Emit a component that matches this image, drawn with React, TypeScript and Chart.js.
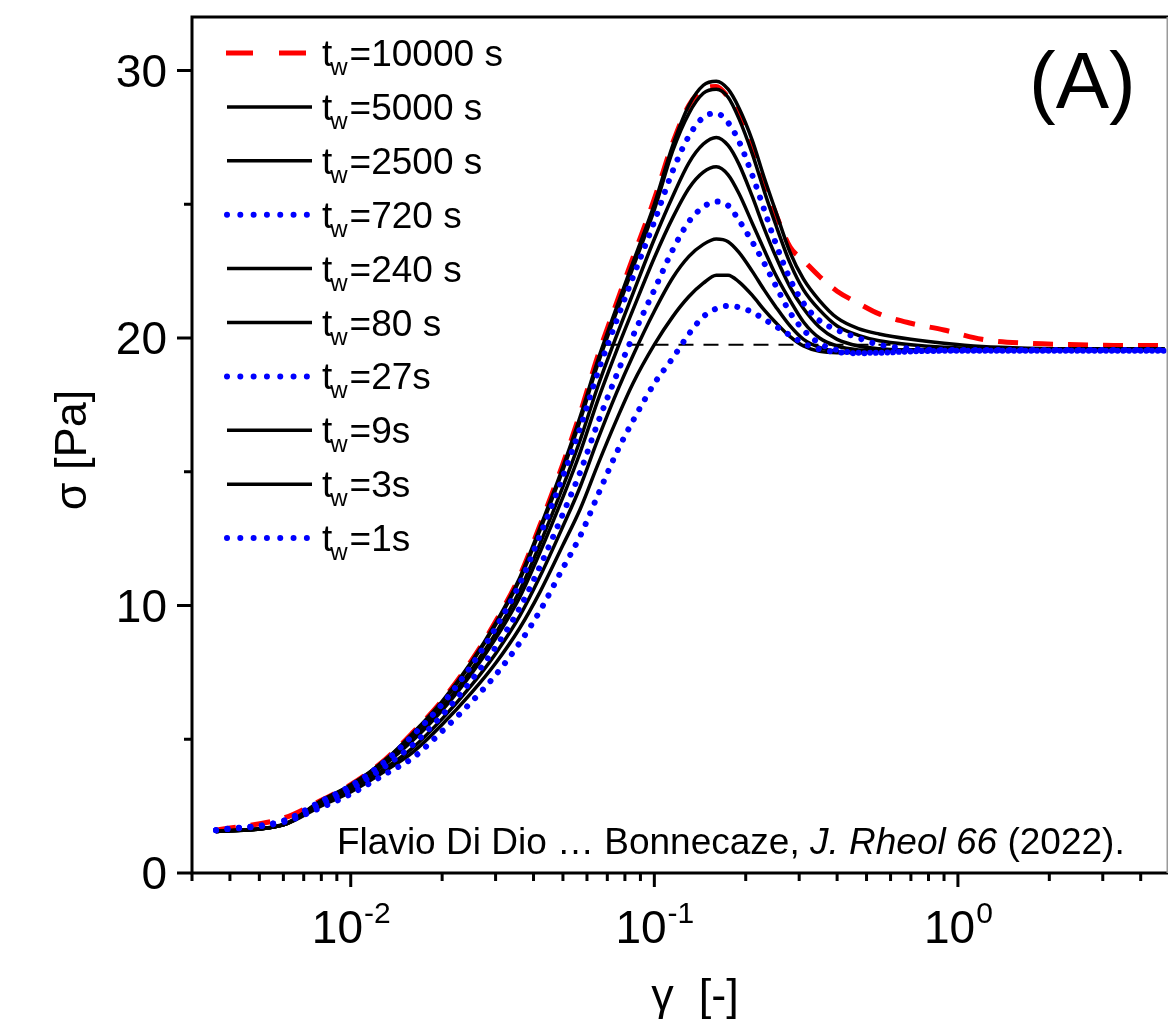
import React, { useEffect, useRef } from 'react';
import { Chart, registerables } from 'chart.js';

Chart.register(...registerables);

// strain values (gamma) shared by all curves
const strain = [0.0036, 0.006, 0.008, 0.01, 0.013, 0.016, 0.02, 0.025, 0.03, 0.036, 0.042, 0.05, 0.057, 0.065, 0.075, 0.085, 0.1, 0.115, 0.13, 0.145, 0.16, 0.175, 0.19, 0.21, 0.23, 0.25, 0.28, 0.31, 0.35, 0.4, 0.47, 0.55, 0.7, 0.9, 1.2, 1.7, 2.5, 3.5, 4.8];

// stress sigma [Pa] for each waiting time
const tw10000 = [1.6, 2.05, 2.72, 3.3, 4.25, 5.25, 6.45, 7.95, 9.4, 11.1, 13.0, 15.3, 17.2, 19.3, 21.3, 23.0, 25.2, 27.3, 28.7, 29.3, 29.4, 29.0, 28.4, 27.2, 25.8, 24.7, 23.4, 22.9, 22.3, 21.75, 21.3, 20.9, 20.55, 20.3, 19.95, 19.8, 19.75, 19.72, 19.72];
const tw5000 = [1.55, 1.82, 2.71, 3.29, 4.23, 5.22, 6.42, 7.9, 9.34, 11.03, 12.9, 15.18, 17.06, 19.14, 21.13, 22.82, 25.0, 27.2, 28.7, 29.45, 29.6, 29.3, 28.6, 27.4, 26.0, 24.8, 23.2, 22.2, 21.4, 20.75, 20.35, 20.15, 19.95, 19.8, 19.68, 19.62, 19.6, 19.6, 19.6];
const tw2500 = [1.55, 1.8, 2.7, 3.28, 4.22, 5.19, 6.38, 7.86, 9.28, 10.95, 12.81, 15.07, 16.92, 18.99, 20.96, 22.63, 24.8, 27.0, 28.4, 29.15, 29.3, 29.0, 28.2, 26.9, 25.5, 24.3, 22.8, 21.8, 21.05, 20.45, 20.1, 19.9, 19.75, 19.65, 19.6, 19.58, 19.58, 19.58, 19.58];
const tw720 = [1.6, 1.95, 2.69, 3.26, 4.18, 5.14, 6.31, 7.76, 9.16, 10.8, 12.62, 14.83, 16.65, 18.68, 20.63, 22.27, 24.35, 26.25, 27.55, 28.25, 28.4, 28.05, 27.35, 26.1, 24.8, 23.6, 22.2, 21.3, 20.65, 20.3, 20.0, 19.75, 19.6, 19.55, 19.55, 19.55, 19.55, 19.55, 19.55];
const tw240 = [1.55, 1.8, 2.66, 3.22, 4.13, 5.04, 6.2, 7.61, 8.96, 10.55, 12.3, 14.44, 16.19, 18.16, 20.07, 21.66, 23.7, 25.3, 26.55, 27.25, 27.5, 27.2, 26.5, 25.3, 24.1, 23.1, 21.9, 21.1, 20.4, 19.95, 19.7, 19.6, 19.55, 19.55, 19.57, 19.57, 19.57, 19.57, 19.57];
const tw80 = [1.55, 1.8, 2.63, 3.19, 4.07, 4.95, 6.08, 7.45, 8.76, 10.3, 11.98, 14.05, 15.73, 17.64, 19.51, 21.05, 23.0, 24.5, 25.6, 26.2, 26.4, 26.1, 25.4, 24.3, 23.3, 22.4, 21.4, 20.6, 20.0, 19.7, 19.55, 19.52, 19.52, 19.55, 19.55, 19.55, 19.55, 19.55, 19.55];
const tw27 = [1.6, 1.95, 2.59, 3.13, 3.99, 4.79, 5.9, 7.21, 8.44, 9.9, 11.46, 13.43, 14.99, 16.8, 18.6, 20.07, 21.8, 23.3, 24.35, 24.9, 25.1, 24.95, 24.4, 23.6, 22.8, 22.0, 20.95, 20.3, 19.8, 19.55, 19.45, 19.45, 19.5, 19.52, 19.52, 19.52, 19.52, 19.52, 19.52];
const tw9 = [1.55, 1.8, 2.56, 3.09, 3.92, 4.68, 5.76, 7.02, 8.2, 9.6, 11.08, 12.96, 14.44, 16.18, 17.94, 19.34, 21.0, 22.25, 23.05, 23.5, 23.7, 23.6, 23.2, 22.5, 21.8, 21.2, 20.45, 19.95, 19.65, 19.5, 19.45, 19.5, 19.55, 19.55, 19.55, 19.55, 19.55, 19.55, 19.55];
const tw3 = [1.55, 1.8, 2.51, 3.03, 3.82, 4.51, 5.55, 6.74, 7.84, 9.15, 10.5, 12.26, 13.61, 15.24, 16.93, 18.3, 19.75, 20.8, 21.55, 22.05, 22.35, 22.35, 22.1, 21.6, 21.05, 20.6, 20.05, 19.7, 19.5, 19.45, 19.47, 19.5, 19.55, 19.55, 19.55, 19.55, 19.55, 19.55, 19.55];
const tw1 = [1.6, 1.9, 2.45, 2.95, 3.7, 4.3, 5.3, 6.4, 7.4, 8.6, 9.8, 11.4, 12.6, 14.1, 15.7, 16.9, 18.3, 19.25, 20.15, 20.8, 21.1, 21.2, 21.15, 20.97, 20.7, 20.45, 20.1, 19.8, 19.58, 19.47, 19.43, 19.45, 19.5, 19.52, 19.52, 19.52, 19.52, 19.52, 19.52];

const legendLabels = ['10000 s', '5000 s', '2500 s', '720 s', '240 s', '80 s', '27s', '9s', '3s', '1s'];
const lineKinds = ['dash', 'solid', 'solid', 'dot', 'solid', 'solid', 'dot', 'solid', 'solid', 'dot'];
const seriesValues = [tw10000, tw5000, tw2500, tw720, tw240, tw80, tw27, tw9, tw3, tw1];

// steady-state reference (horizontal dashed line)
const refLineX = [0.068, 0.6];
const refLineY = [19.75, 19.75];

// axis ticks
const yMajorTicks = [0, 10, 20, 30];
const yMinorTicks = [5, 15, 25];
const xMajorExponents = [-2, -1, 0];
const xMinorTicks = [0.003, 0.004, 0.005, 0.006, 0.007, 0.008, 0.009, 0.02, 0.03, 0.04, 0.05, 0.06, 0.07, 0.08, 0.09, 0.2, 0.3, 0.4, 0.5, 0.6, 0.7, 0.8, 0.9, 2, 3, 4];

const FONT = '"Liberation Sans", Arial, sans-serif';

function styleFor(kind: string) {
  if (kind === 'dash') {
    return { borderColor: '#ff0000', borderWidth: 5, borderDash: [20, 15], borderCapStyle: 'butt', order: 2 };
  }
  if (kind === 'dot') {
    return { borderColor: '#0000ff', borderWidth: 6, borderDash: [0.01, 11.5], borderCapStyle: 'round', order: 0 };
  }
  return { borderColor: '#000000', borderWidth: 3.5, borderDash: [], borderCapStyle: 'butt', order: 1 };
}

const overlayPlugin = {
  id: 'overlay',
  afterDraw(chart: any) {
    const { ctx, chartArea: ca, scales } = chart;
    const xs = scales.x;
    const ys = scales.y;
    ctx.save();

    // frame
    ctx.strokeStyle = '#000';
    ctx.lineWidth = 3;
    ctx.lineJoin = 'miter';
    ctx.setLineDash([]);
    ctx.beginPath();
    ctx.moveTo(ca.right, ca.top);
    ctx.lineTo(ca.left, ca.top);
    ctx.lineTo(ca.left, ca.bottom);
    ctx.lineTo(ca.right, ca.bottom);
    ctx.stroke();
    ctx.strokeStyle = '#9a9a9a';
    ctx.lineWidth = 1.5;
    ctx.beginPath();
    ctx.moveTo(ca.right - 0.75, ca.top);
    ctx.lineTo(ca.right - 0.75, ca.bottom);
    ctx.stroke();

    // ticks
    ctx.strokeStyle = '#000';
    ctx.lineWidth = 3;
    ctx.beginPath();
    yMajorTicks.forEach((v) => {
      const y = ys.getPixelForValue(v);
      ctx.moveTo(ca.left - 15, y);
      ctx.lineTo(ca.left, y);
    });
    yMinorTicks.forEach((v) => {
      const y = ys.getPixelForValue(v);
      ctx.moveTo(ca.left - 8, y);
      ctx.lineTo(ca.left, y);
    });
    xMajorExponents.forEach((e) => {
      const x = xs.getPixelForValue(Math.pow(10, e));
      ctx.moveTo(x, ca.bottom);
      ctx.lineTo(x, ca.bottom + 14);
    });
    xMinorTicks.forEach((v) => {
      const x = xs.getPixelForValue(v);
      ctx.moveTo(x, ca.bottom);
      ctx.lineTo(x, ca.bottom + 8);
    });
    ctx.stroke();

    // y tick labels
    ctx.fillStyle = '#000';
    ctx.font = `46px ${FONT}`;
    ctx.textAlign = 'right';
    ctx.textBaseline = 'alphabetic';
    yMajorTicks.forEach((v) => {
      const y = ys.getPixelForValue(v);
      ctx.fillText(String(v), ca.left - 25, y + 16);
    });

    // x tick labels 10^n
    ctx.textAlign = 'left';
    xMajorExponents.forEach((e) => {
      const x = xs.getPixelForValue(Math.pow(10, e));
      ctx.font = `46px ${FONT}`;
      const wBase = ctx.measureText('10').width;
      ctx.font = `30px ${FONT}`;
      const sup = String(e);
      const wSup = ctx.measureText(sup).width;
      const x0 = x - (wBase + wSup) / 2;
      ctx.font = `46px ${FONT}`;
      ctx.fillText('10', x0, 943);
      ctx.font = `30px ${FONT}`;
      ctx.fillText(sup, x0 + wBase + 1, 923);
    });

    // axis titles
    ctx.font = `45px ${FONT}`;
    ctx.textAlign = 'center';
    ctx.fillText('\u03b3  [-]', 695, 1010);
    ctx.save();
    ctx.translate(86, 450);
    ctx.rotate(-Math.PI / 2);
    ctx.fillText('\u03c3 [Pa]', 0, 0);
    ctx.restore();

    // panel label
    ctx.font = `80px ${FONT}`;
    ctx.textAlign = 'left';
    ctx.fillText('(A)', 1029, 108);

    // credit line
    const parts = [
      { t: 'Flavio Di Dio \u2026 Bonnecaze, ', it: false },
      { t: 'J. Rheol 66', it: true },
      { t: ' (2022).', it: false },
    ];
    let cx = 337;
    parts.forEach((p) => {
      ctx.font = `${p.it ? 'italic ' : ''}37px ${FONT}`;
      ctx.fillText(p.t, cx, 854);
      cx += ctx.measureText(p.t).width;
    });

    // legend
    const rowY0 = 53;
    const rowStep = 53.9;
    legendLabels.forEach((lab, i) => {
      const yc = rowY0 + rowStep * i;
      const kind = lineKinds[i];
      const st = styleFor(kind);
      ctx.save();
      ctx.strokeStyle = st.borderColor;
      ctx.beginPath();
      if (kind === 'dash') {
        ctx.lineWidth = 5;
        ctx.setLineDash([27, 26]);
        ctx.lineCap = 'butt';
        ctx.moveTo(226, yc);
        ctx.lineTo(307, yc);
      } else if (kind === 'dot') {
        ctx.lineWidth = 6;
        ctx.setLineDash([0.01, 13.3]);
        ctx.lineCap = 'round';
        ctx.moveTo(227, yc);
        ctx.lineTo(308, yc);
      } else {
        ctx.lineWidth = 3.5;
        ctx.setLineDash([]);
        ctx.lineCap = 'butt';
        ctx.moveTo(227, yc);
        ctx.lineTo(312, yc);
      }
      ctx.stroke();
      ctx.restore();

      ctx.fillStyle = '#000';
      ctx.textAlign = 'left';
      ctx.font = `37px ${FONT}`;
      ctx.fillText('t', 322, yc + 13);
      const tW = ctx.measureText('t').width;
      ctx.font = `24px ${FONT}`;
      ctx.fillText('w', 322 + tW - 2, yc + 22);
      const wW = ctx.measureText('w').width;
      ctx.font = `37px ${FONT}`;
      ctx.fillText('=' + lab, 322 + tW - 2 + wW + 2, yc + 13);
    });

    ctx.restore();
  },
};

export default function App() {
  const canvasRef = useRef<HTMLCanvasElement | null>(null);

  useEffect(() => {
    document.body.style.margin = '0';
    const canvas = canvasRef.current;
    if (!canvas) return;

    const datasets: any[] = seriesValues.map((vals, i) => ({
      label: legendLabels[i],
      data: strain.map((x, j) => ({ x, y: vals[j] })),
      fill: false,
      pointRadius: 0,
      cubicInterpolationMode: 'monotone',
      borderJoinStyle: 'round',
      ...styleFor(lineKinds[i]),
    }));
    datasets.push({
      label: 'steady state',
      data: refLineX.map((x, j) => ({ x, y: refLineY[j] })),
      borderColor: '#000',
      borderWidth: 2,
      borderDash: [15, 10],
      pointRadius: 0,
      fill: false,
      order: 3,
    });

    const chart = new Chart(canvas, {
      type: 'line',
      data: { datasets },
      options: {
        responsive: false,
        animation: false,
        events: [],
        layout: { padding: { left: 192, top: 17, right: 1, bottom: 150 } },
        plugins: { legend: { display: false }, tooltip: { enabled: false } },
        scales: {
          x: { type: 'logarithmic', min: 0.003, max: 4.92, display: false },
          y: { type: 'linear', min: 0, max: 32, display: false },
        },
      },
      plugins: [overlayPlugin],
    } as any);

    return () => chart.destroy();
  }, []);

  return (
    <div style={{ position: 'absolute', left: 0, top: 0, width: 1169, height: 1023, background: '#fff' }}>
      <canvas ref={canvasRef} width={1169} height={1023} style={{ display: 'block' }} />
    </div>
  );
}
